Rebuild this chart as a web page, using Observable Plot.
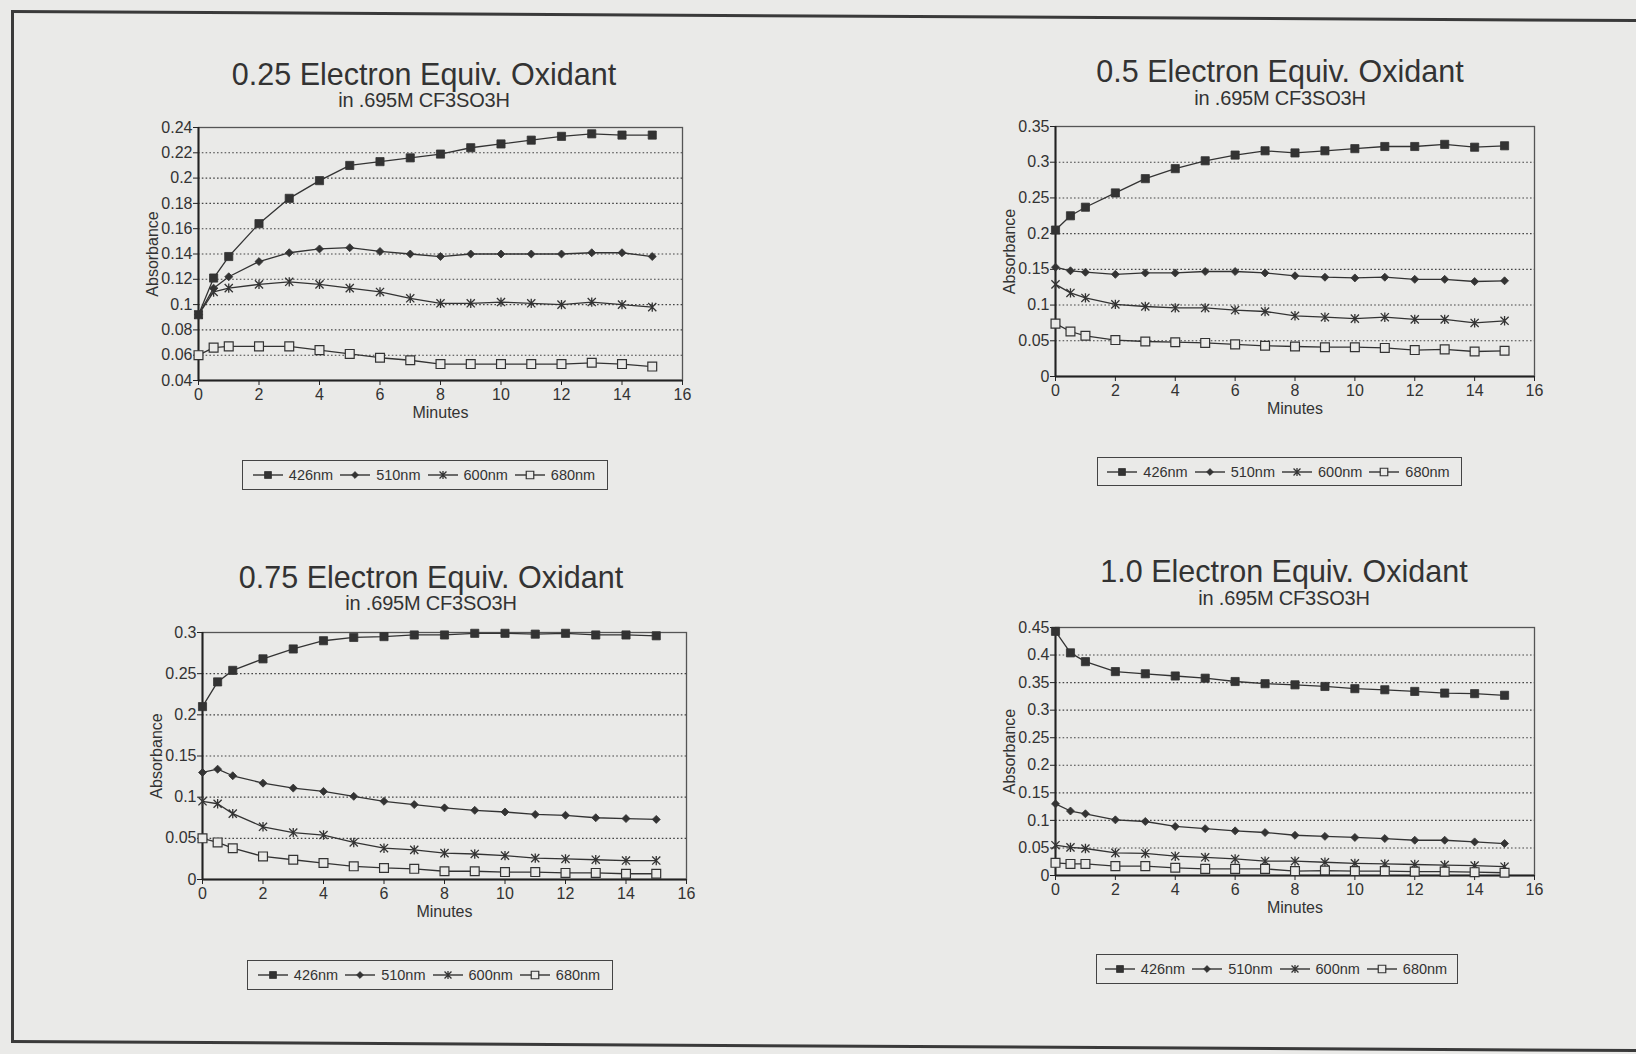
<!DOCTYPE html>
<html><head><meta charset="utf-8">
<script src="https://cdn.jsdelivr.net/npm/d3@7"></script>
<script src="https://cdn.jsdelivr.net/npm/@observablehq/plot@0.6"></script>
<style>
html,body{margin:0;padding:0;background:#eaeae8;width:1636px;height:1054px;overflow:hidden;font-family:"Liberation Sans",Arial,sans-serif;color:#333}
#page{position:relative;width:1636px;height:1054px}
.border{position:absolute;left:11px;top:10px;width:1700px;height:1033px;border:3px solid #3a3a3a;border-right:none;transform:skewY(0.32deg);transform-origin:0 0;box-sizing:border-box}
.title{position:absolute;transform:translateX(-50%);white-space:nowrap;font-size:30.5px;line-height:1}
.sub{position:absolute;transform:translateX(-50%);white-space:nowrap;font-size:20px;line-height:1;letter-spacing:-0.2px}
.chart{position:absolute}
.legend{position:absolute;border:1.5px solid #444;box-sizing:border-box;display:flex;align-items:center;justify-content:center;font-size:14.5px;gap:3px}
.legend .item{display:flex;align-items:center;gap:5px;margin-right:3px}
.legend svg{display:block}
</style>
</head><body><div id="page"><div class="border"></div></div>
<script>
// ---- data ----
const minutes = [0, 0.5, 1, 2, 3, 4, 5, 6, 7, 8, 9, 10, 11, 12, 13, 14, 15];
const wavelengths = ["426nm", "510nm", "600nm", "680nm"];
const xTicks = [0, 2, 4, 6, 8, 10, 12, 14, 16];

const titles = ["0.25 Electron Equiv. Oxidant", "0.5 Electron Equiv. Oxidant", "0.75 Electron Equiv. Oxidant", "1.0 Electron Equiv. Oxidant"];
const subtitle = "in .695M CF3SO3H";
const xLabel = "Minutes";
const yLabel = "Absorbance";

// 0.25 equiv
const e025_426 = [0.092, 0.121, 0.138, 0.164, 0.184, 0.198, 0.210, 0.213, 0.216, 0.219, 0.224, 0.227, 0.230, 0.233, 0.235, 0.234, 0.234];
const e025_510 = [0.092, 0.113, 0.122, 0.134, 0.141, 0.144, 0.145, 0.142, 0.140, 0.138, 0.140, 0.140, 0.140, 0.140, 0.141, 0.141, 0.138];
const e025_600 = [0.092, 0.110, 0.113, 0.116, 0.118, 0.116, 0.113, 0.110, 0.105, 0.101, 0.101, 0.102, 0.101, 0.100, 0.102, 0.100, 0.098];
const e025_680 = [0.060, 0.066, 0.067, 0.067, 0.067, 0.064, 0.061, 0.058, 0.056, 0.053, 0.053, 0.053, 0.053, 0.053, 0.054, 0.053, 0.051];
const e025_ticks = [0.04, 0.06, 0.08, 0.10, 0.12, 0.14, 0.16, 0.18, 0.20, 0.22, 0.24];

// 0.5 equiv
const e05_426 = [0.205, 0.225, 0.237, 0.257, 0.277, 0.291, 0.302, 0.310, 0.316, 0.313, 0.316, 0.319, 0.322, 0.322, 0.325, 0.321, 0.323];
const e05_510 = [0.153, 0.148, 0.146, 0.143, 0.145, 0.145, 0.147, 0.147, 0.145, 0.141, 0.139, 0.138, 0.139, 0.136, 0.136, 0.133, 0.134];
const e05_600 = [0.129, 0.117, 0.110, 0.101, 0.098, 0.096, 0.096, 0.093, 0.091, 0.085, 0.083, 0.081, 0.083, 0.080, 0.080, 0.075, 0.078];
const e05_680 = [0.074, 0.063, 0.057, 0.051, 0.049, 0.048, 0.047, 0.045, 0.043, 0.042, 0.041, 0.041, 0.040, 0.037, 0.038, 0.035, 0.036];
const e05_ticks = [0, 0.05, 0.10, 0.15, 0.20, 0.25, 0.30, 0.35];

// 0.75 equiv
const e075_426 = [0.210, 0.240, 0.254, 0.268, 0.280, 0.290, 0.294, 0.295, 0.297, 0.297, 0.299, 0.299, 0.298, 0.299, 0.297, 0.297, 0.296];
const e075_510 = [0.130, 0.134, 0.126, 0.117, 0.111, 0.107, 0.101, 0.095, 0.091, 0.087, 0.084, 0.082, 0.079, 0.078, 0.075, 0.074, 0.073];
const e075_600 = [0.095, 0.092, 0.080, 0.064, 0.057, 0.054, 0.045, 0.038, 0.036, 0.032, 0.031, 0.029, 0.026, 0.025, 0.024, 0.023, 0.023];
const e075_680 = [0.050, 0.045, 0.038, 0.028, 0.024, 0.020, 0.016, 0.014, 0.013, 0.010, 0.010, 0.009, 0.009, 0.008, 0.008, 0.007, 0.007];
const e075_ticks = [0, 0.05, 0.10, 0.15, 0.20, 0.25, 0.30];

// 1.0 equiv
const e10_426 = [0.443, 0.404, 0.388, 0.370, 0.366, 0.362, 0.358, 0.352, 0.348, 0.346, 0.343, 0.339, 0.337, 0.334, 0.331, 0.330, 0.327];
const e10_510 = [0.130, 0.117, 0.112, 0.101, 0.098, 0.089, 0.085, 0.081, 0.078, 0.073, 0.071, 0.069, 0.067, 0.064, 0.064, 0.061, 0.058];
const e10_600 = [0.055, 0.051, 0.049, 0.041, 0.040, 0.035, 0.033, 0.030, 0.026, 0.026, 0.024, 0.022, 0.021, 0.020, 0.019, 0.018, 0.016];
const e10_680 = [0.023, 0.021, 0.021, 0.017, 0.017, 0.014, 0.012, 0.012, 0.012, 0.008, 0.009, 0.008, 0.008, 0.007, 0.007, 0.006, 0.005];
const e10_ticks = [0, 0.05, 0.10, 0.15, 0.20, 0.25, 0.30, 0.35, 0.40, 0.45];

// ---- layout / style (not data) ----
const BG = "#eaeae8";
const INK = "#333";
const star = {
  draw(ctx, size) {
    const r = Math.sqrt(size) * 0.5;
    ctx.moveTo(-r, -r); ctx.lineTo(r, r);
    ctx.moveTo(-r, r); ctx.lineTo(r, -r);
    ctx.moveTo(0, -r * 1.15); ctx.lineTo(0, r * 1.15);
  }
};
const markerStyles = [
  {symbol: "square", r: 4.6, fill: INK, stroke: INK, strokeWidth: 0.8},
  {symbol: "diamond2", r: 3.6, fill: INK, stroke: INK, strokeWidth: 0.8},
  {symbol: star, r: 4.6, fill: "none", stroke: INK, strokeWidth: 1.3},
  {symbol: "square", r: 5, fill: BG, stroke: INK, strokeWidth: 1.2}
];

const charts = [
  {title: titles[0], series: [e025_426, e025_510, e025_600, e025_680], ticks: e025_ticks,
   plot: {left: 198, top: 127, w: 484, h: 253}, tx: 424, tb: 85, sb: 107, legend: {left: 242, top: 460, w: 366, h: 30}},
  {title: titles[1], series: [e05_426, e05_510, e05_600, e05_680], ticks: e05_ticks,
   plot: {left: 1055, top: 126, w: 479, h: 250}, tx: 1280, tb: 82, sb: 105, legend: {left: 1097, top: 457, w: 365, h: 29}},
  {title: titles[2], series: [e075_426, e075_510, e075_600, e075_680], ticks: e075_ticks,
   plot: {left: 202, top: 632, w: 484, h: 247}, tx: 431, tb: 588, sb: 610, legend: {left: 247, top: 960, w: 366, h: 30}},
  {title: titles[3], series: [e10_426, e10_510, e10_600, e10_680], ticks: e10_ticks,
   plot: {left: 1055, top: 627, w: 479, h: 248}, tx: 1284, tb: 582, sb: 605, legend: {left: 1096, top: 954, w: 362, h: 30}}
];

const M = {left: 62, right: 12, top: 10, bottom: 48};
const fmt = d3.format("~g");
const page = document.getElementById("page");

function swatch(i) {
  const s = markerStyles[i];
  const ns = "http://www.w3.org/2000/svg";
  const svg = document.createElementNS(ns, "svg");
  svg.setAttribute("width", 32); svg.setAttribute("height", 12);
  const line = document.createElementNS(ns, "line");
  line.setAttribute("x1", 1); line.setAttribute("x2", 31); line.setAttribute("y1", 6); line.setAttribute("y2", 6);
  line.setAttribute("stroke", INK); line.setAttribute("stroke-width", 1.4);
  svg.appendChild(line);
  const type = s.symbol === "square" ? d3.symbolSquare : s.symbol === "diamond2" ? d3.symbolDiamond2 : s.symbol;
  const p = document.createElementNS(ns, "path");
  const rr = s.r * 0.85;
  p.setAttribute("d", d3.symbol().type(type).size(Math.PI * rr * rr)());
  p.setAttribute("transform", "translate(16,6)");
  p.setAttribute("fill", s.fill); p.setAttribute("stroke", s.stroke); p.setAttribute("stroke-width", s.strokeWidth);
  svg.appendChild(p);
  return svg;
}

charts.forEach(c => {
  const rows = [];
  c.series.forEach((vals, i) => vals.forEach((v, j) => rows.push({minute: minutes[j], abs: v, wl: wavelengths[i]})));
  const yDomain = [c.ticks[0], c.ticks[c.ticks.length - 1]];
  const plot = Plot.plot({
    width: c.plot.w + M.left + M.right,
    height: c.plot.h + M.top + M.bottom,
    marginLeft: M.left, marginRight: M.right, marginTop: M.top, marginBottom: M.bottom,
    style: {background: "transparent", fontFamily: "'Liberation Sans', Arial, sans-serif", color: INK, overflow: "visible"},
    x: {domain: [0, 16]},
    y: {domain: yDomain},
    marks: [
      Plot.ruleY(c.ticks.slice(1, -1), {stroke: "#444", strokeWidth: 1.1, strokeDasharray: "1.6,2.2"}),
      Plot.frame({stroke: "#555", strokeWidth: 1.3}),
      Plot.ruleX([0], {stroke: "#222", strokeWidth: 2}),
      Plot.ruleY([yDomain[0]], {stroke: "#222", strokeWidth: 2}),
      Plot.axisX(xTicks, {tickSize: 5, tickPadding: 3, fontSize: 16, tickFormat: fmt, stroke: "#222",
        label: xLabel, labelAnchor: "center", labelOffset: 37, labelArrow: "none"}),
      Plot.axisY(c.ticks, {tickSize: 5, tickPadding: 1, fontSize: 16, tickFormat: fmt, stroke: "#222",
        label: yLabel, labelAnchor: "center", labelOffset: 52, labelArrow: "none"}),
      ...wavelengths.map((w, i) => Plot.line(rows.filter(r => r.wl === w), {x: "minute", y: "abs", stroke: INK, strokeWidth: 1.3})),
      ...wavelengths.map((w, i) => Plot.dot(rows.filter(r => r.wl === w), {x: "minute", y: "abs", ...markerStyles[i]}))
    ]
  });
  const wrap = document.createElement("div");
  wrap.className = "chart";
  wrap.style.left = (c.plot.left - M.left) + "px";
  wrap.style.top = (c.plot.top - M.top) + "px";
  wrap.appendChild(plot);
  page.appendChild(wrap);

  const t = document.createElement("div");
  t.className = "title"; t.textContent = c.title;
  t.style.left = c.tx + "px"; t.style.top = (c.tb - 0.8465 * 30.5) + "px";
  page.appendChild(t);
  const s = document.createElement("div");
  s.className = "sub"; s.textContent = subtitle;
  s.style.left = c.tx + "px"; s.style.top = (c.sb - 0.8465 * 20) + "px";
  page.appendChild(s);

  const lg = document.createElement("div");
  lg.className = "legend";
  Object.assign(lg.style, {left: c.legend.left + "px", top: c.legend.top + "px", width: c.legend.w + "px", height: c.legend.h + "px"});
  wavelengths.forEach((w, i) => {
    const it = document.createElement("div"); it.className = "item";
    it.appendChild(swatch(i));
    const sp = document.createElement("span"); sp.textContent = w;
    it.appendChild(sp);
    lg.appendChild(it);
  });
  page.appendChild(lg);
});
</script>
</body></html>
